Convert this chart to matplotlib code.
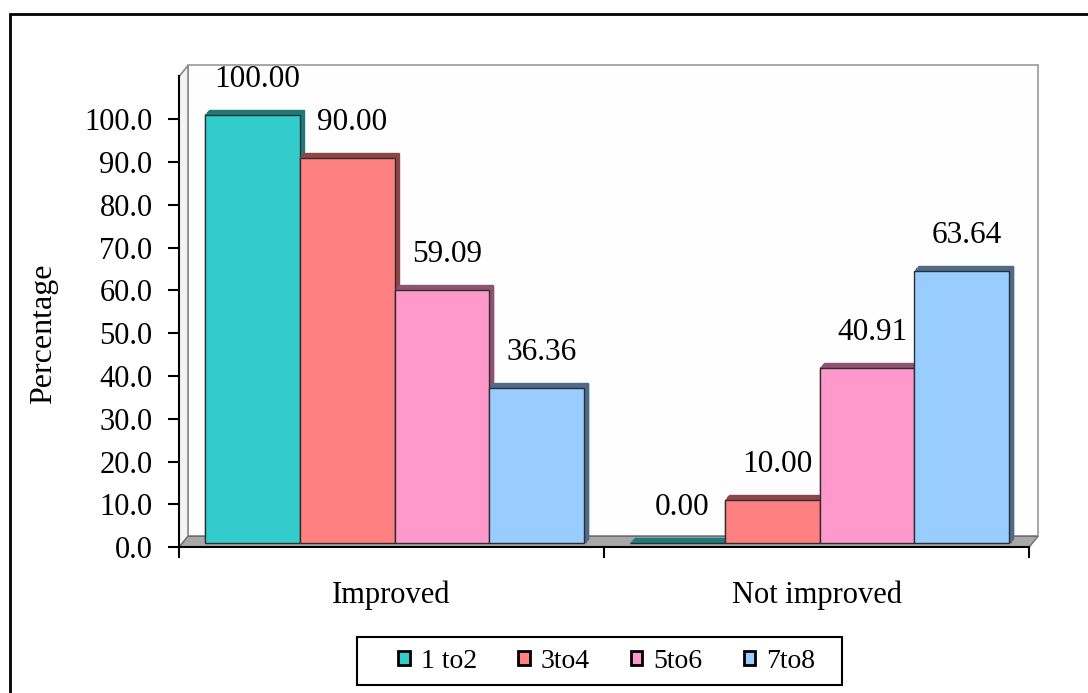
import numpy as np
import matplotlib
matplotlib.use("Agg")
import matplotlib.pyplot as plt
from matplotlib.patches import Polygon, Rectangle, Patch
from matplotlib.transforms import ScaledTranslation, IdentityTransform
from matplotlib.ticker import FormatStrFormatter

plt.rcParams['font.family'] = ['Liberation Serif', 'DejaVu Serif']

# Percentage of cases per age group
categories = ["Improved", "Not improved"]
series_names = ["1 to2", "3to4", "5to6", "7to8"]
improved = [100.00, 90.00, 59.09, 36.36]
not_improved = [0.00, 10.00, 40.91, 63.64]
yticks = np.arange(0, 101, 10)

face_colors = ["#33CCCC", "#FF8080", "#FF99CC", "#99CCFF"]
shade_colors = ["#1E7A7A", "#8C4646", "#8C5470", "#4F6B8A"]

values = np.array([improved, not_improved])

W, H = 1088, 693
fig = plt.figure(figsize=(W / 100, H / 100), dpi=100)
ax = fig.add_axes([179 / W, 1 - 547.3 / H, 850 / W, 470.8 / H])
ax.set_xlim(0, 2)
ax.set_ylim(0, 110)
ax.set_autoscale_on(False)
ax.patch.set_visible(False)

# depth of the pseudo-3D box (pixels)
wall_dx, wall_dy = 9, 11
bar_fx, bar_fy = 3, 4      # front face of columns sits a bit inside the box
bar_dx, bar_dy = 4, 5      # column depth


def shifted(dx, dy):
    return ax.transData + ScaledTranslation(dx / fig.dpi, dy / fig.dpi, fig.dpi_scale_trans)


# walls and floor, in display pixels
(x0, y0), (x1, _), (_, y1) = ax.transData.transform([(0, 0), (2, 0), (0, 110)])
back = Polygon([(x0 + wall_dx, y0 + wall_dy), (x1 + wall_dx, y0 + wall_dy),
                (x1 + wall_dx, y1 + wall_dy), (x0 + wall_dx, y1 + wall_dy)],
               closed=True, fc="#FEFEFE", ec="#9A9A9A", lw=1.2, zorder=0.5)
left = Polygon([(x0, y0), (x0 + wall_dx, y0 + wall_dy), (x0 + wall_dx, y1 + wall_dy), (x0, y1)],
               closed=True, fc="#F4F4F4", ec="#8A8A8A", lw=1.2, zorder=0.6)
floor = Polygon([(x0, y0), (x1, y0), (x1 + wall_dx, y0 + wall_dy), (x0 + wall_dx, y0 + wall_dy)],
                closed=True, fc="#A8A8A8", ec="#6E6E6E", lw=1.0, zorder=0.6)
for p in (back, left, floor):
    ax.add_patch(p)
    p.set_transform(IdentityTransform())
    p.set_clip_on(False)

# columns
width = 0.2235
offsets = (np.arange(len(series_names)) - 1.5) * width
steps = 6
z = 2.0
for i in range(len(categories)):
    for j in range(len(series_names)):
        x = i + 0.5 + offsets[j]
        v = values[i, j]
        for k in range(steps, 0, -1):
            f = k / steps
            b = ax.bar(x, v, width, color=shade_colors[j], edgecolor=shade_colors[j], lw=1,
                       transform=shifted(bar_fx + bar_dx * f, bar_fy + bar_dy * f), zorder=z)
            for r in b:
                r.set_clip_on(False)
        b = ax.bar(x, v, width, color=face_colors[j], edgecolor="#2E2E2E", lw=1.0,
                   transform=shifted(bar_fx, bar_fy), zorder=z + 0.01)
        for r in b:
            r.set_clip_on(False)
        z += 0.02
        ax.annotate(f"{v:.2f}", xy=(x, v), xytext=(8, 32), textcoords="offset pixels",
                    ha="center", va="baseline", fontsize=22.5, zorder=5,
                    annotation_clip=False)

# axes
for s in ("top", "right"):
    ax.spines[s].set_visible(False)
ax.spines["left"].set_linewidth(1.5)
ax.spines["bottom"].set_linewidth(1.5)
ax.spines["left"].set_zorder(4)
ax.spines["bottom"].set_zorder(4)

ax.set_yticks(yticks)
ax.yaxis.set_major_formatter(FormatStrFormatter("%.1f"))
ax.tick_params(axis="y", direction="out", length=8, width=1.5, pad=11, labelsize=22)

ax.set_xticks([0, 1, 2])
ax.set_xticks([0.5, 1.5], minor=True)
ax.set_xticklabels(categories, minor=True)
ax.tick_params(axis="x", which="major", direction="out", length=8, width=1.5, labelbottom=False)
ax.tick_params(axis="x", which="minor", length=0, pad=24, labelsize=22)

ax.set_ylabel("Percentage", fontsize=23)
ax.yaxis.set_label_coords(-0.142, 0.453)

ax.set_xlim(0, 2)
ax.set_ylim(0, 110)

# legend
handles = [Patch(facecolor=c, edgecolor="black", lw=2) for c in face_colors]
fig.legend(handles, series_names, loc="center", bbox_to_anchor=(607 / W, 1 - 661 / H),
           ncol=4, fontsize=20, frameon=False, handlelength=0.4, handleheight=0.4,
           handletextpad=0.4, columnspacing=1.5)
fig.add_artist(Rectangle((357 / W, 1 - 685 / H), 485 / W, 48 / H, transform=fig.transFigure,
                         fill=False, ec="black", lw=1.5))

# chart border
fig.add_artist(Rectangle((10 / W, -0.1), 1.2, 1 - 14 / H + 0.1, transform=fig.transFigure,
                         fill=False, ec="black", lw=2))

fig.savefig("out.png", dpi=100)
